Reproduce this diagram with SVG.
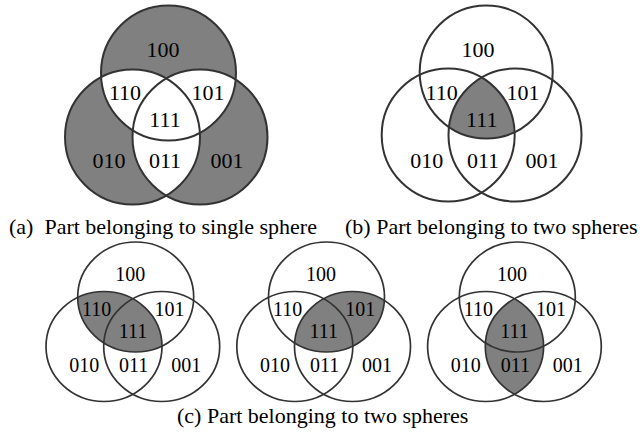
<svg xmlns="http://www.w3.org/2000/svg" width="640" height="436" viewBox="0 0 640 436">
<style>
.o{fill:none;stroke:#333;stroke-width:2}
.oc{fill:none;stroke:#333;stroke-width:1.7}
.g{fill:#808080}
.w{fill:#fff}
text{font-family:"Liberation Serif","Times New Roman",serif;fill:#000;text-anchor:middle}
.t1{font-size:22px}
.t2{font-size:20px}
.cap{font-size:22px;text-anchor:start;white-space:pre}
</style>
<defs>
<clipPath id="aT"><circle cx="0" cy="0" r="67.5"/></clipPath>
<clipPath id="aL"><circle cx="-36" cy="64" r="67.5"/></clipPath>
<clipPath id="bT"><circle cx="0" cy="0" r="66.5"/></clipPath>
<clipPath id="bL"><circle cx="-38" cy="63" r="66.5"/></clipPath>
<clipPath id="cL"><ellipse cx="-31.7" cy="49.5" rx="58" ry="55"/></clipPath>
<clipPath id="cR"><ellipse cx="26" cy="49.5" rx="58" ry="55"/></clipPath>
</defs>
<rect width="640" height="436" fill="#fff"/>

<g id="diagram-a" transform="translate(168.5,73)">
<circle class="g" cx="0" cy="0" r="67.5"/>
<circle class="g" cx="-36" cy="64" r="67.5"/>
<circle class="g" cx="31.5" cy="64" r="67.5"/>
<g clip-path="url(#aT)"><circle class="w" cx="-36" cy="64" r="67.5"/><circle class="w" cx="31.5" cy="64" r="67.5"/></g>
<circle class="w" clip-path="url(#aL)" cx="31.5" cy="64" r="67.5"/>
<circle class="o" cx="0" cy="0" r="67.5"/>
<circle class="o" cx="-36" cy="64" r="67.5"/>
<circle class="o" cx="31.5" cy="64" r="67.5"/>
<g class="t1">
<text x="-5.5" y="-16">100</text>
<text x="-43.5" y="27">110</text>
<text x="39.5" y="27">101</text>
<text x="-3.5" y="54">111</text>
<text x="-59.5" y="95">010</text>
<text x="-3.5" y="95">011</text>
<text x="58.5" y="95">001</text>
</g>
</g>

<g id="diagram-b" transform="translate(486.2,72)">
<g clip-path="url(#bT)"><circle class="g" clip-path="url(#bL)" cx="28.8" cy="63" r="66.5"/></g>
<circle class="o" cx="0" cy="0" r="66.5"/>
<circle class="o" cx="-38" cy="63" r="66.5"/>
<circle class="o" cx="28.8" cy="63" r="66.5"/>
<g class="t1">
<text x="-8.2" y="-15">100</text>
<text x="-44.5" y="28">110</text>
<text x="36.8" y="28">101</text>
<text x="-4.5" y="55">111</text>
<text x="-59.5" y="96">010</text>
<text x="-3.2" y="96">011</text>
<text x="55.8" y="96">001</text>
</g>
</g>

<g id="diagram-c1" transform="translate(135.7,297)">
<ellipse class="g" clip-path="url(#cL)" cx="0" cy="0" rx="58" ry="55"/>
<ellipse class="oc" cx="0" cy="0" rx="58" ry="55"/>
<ellipse class="oc" cx="-31.7" cy="49.5" rx="58" ry="55"/>
<ellipse class="oc" cx="26" cy="49.5" rx="58" ry="55"/>
<g class="t2">
<text x="-5.4" y="-16">100</text>
<text x="-39" y="19">110</text>
<text x="33.8" y="19">101</text>
<text x="-2.7" y="40.5">111</text>
<text x="-51.5" y="75">010</text>
<text x="-2" y="75">011</text>
<text x="50.5" y="75">001</text>
</g>
</g>

<g id="diagram-c2" transform="translate(326.5,297)">
<ellipse class="g" clip-path="url(#cR)" cx="0" cy="0" rx="58" ry="55"/>
<ellipse class="oc" cx="0" cy="0" rx="58" ry="55"/>
<ellipse class="oc" cx="-31.7" cy="49.5" rx="58" ry="55"/>
<ellipse class="oc" cx="26" cy="49.5" rx="58" ry="55"/>
<g class="t2">
<text x="-5.4" y="-16">100</text>
<text x="-39" y="19">110</text>
<text x="33.8" y="19">101</text>
<text x="-2.7" y="40.5">111</text>
<text x="-51.5" y="75">010</text>
<text x="-2" y="75">011</text>
<text x="50.5" y="75">001</text>
</g>
</g>

<g id="diagram-c3" transform="translate(517.3,297)">
<ellipse class="g" clip-path="url(#cL)" cx="26" cy="49.5" rx="58" ry="55"/>
<ellipse class="oc" cx="0" cy="0" rx="58" ry="55"/>
<ellipse class="oc" cx="-31.7" cy="49.5" rx="58" ry="55"/>
<ellipse class="oc" cx="26" cy="49.5" rx="58" ry="55"/>
<g class="t2">
<text x="-5.4" y="-16">100</text>
<text x="-39" y="19">110</text>
<text x="33.8" y="19">101</text>
<text x="-2.7" y="40.5">111</text>
<text x="-51.5" y="75">010</text>
<text x="-2" y="75">011</text>
<text x="50.5" y="75">001</text>
</g>
</g>

<g id="captions">
<text class="cap" x="9" y="234" xml:space="preserve">(a)  Part belonging to single sphere</text>
<text class="cap" x="345" y="234">(b) Part belonging to two spheres</text>
<text class="cap" x="177" y="423">(c) Part belonging to two spheres</text>
</g>
</svg>
